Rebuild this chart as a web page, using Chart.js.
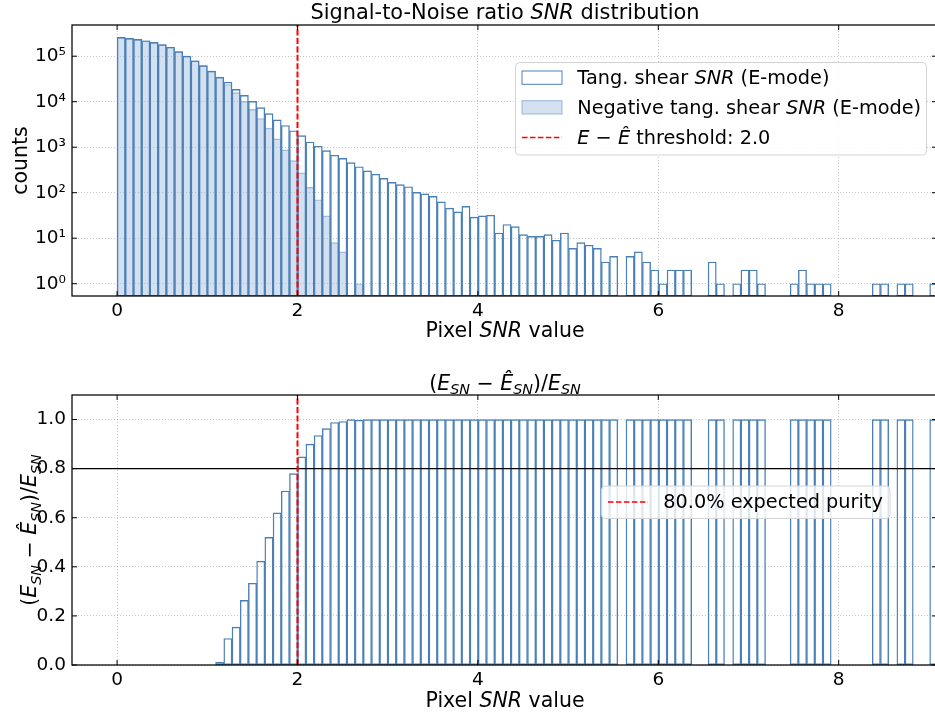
<!DOCTYPE html>
<html>
<head>
<meta charset="utf-8">
<script src="https://cdn.jsdelivr.net/npm/chart.js@4"></script>
<style>
  html, body { margin: 0; padding: 0; background: #fff; overflow: hidden; }
  #wrap { position: relative; width: 935px; height: 717px; overflow: hidden; }
  canvas { position: absolute; left: 0; top: 0; }
</style>
</head>
<body>
<div id="wrap">
  <canvas id="snrHist" width="940" height="717"></canvas>
  <canvas id="purityHist" width="940" height="717"></canvas>
</div>
<script>
// histogram bins: 100 bins of equal width starting at 0
const BIN_W = 0.091;

// tangential shear SNR counts (E-mode), one per bin
const counts = [
  260000, 247000, 235000, 219000, 202000, 179000, 157000, 126000, 100000, 79000,
  62000, 47000, 34700, 26800, 18700, 13800, 10200, 7400, 5450, 4000,
  3000, 2300, 1790, 1300, 1050, 840, 665, 570, 457, 372,
  303, 254, 207, 169, 150, 135, 102, 94, 83, 63,
  46, 38, 50, 29, 31, 32, 13, 20, 18, 12,
  11, 11, 12, 9, 13, 6, 8, 7, 6, 3,
  4, 0, 4, 5, 3, 2, 1, 2, 2, 2,
  0, 0, 3, 1, 0, 1, 2, 2, 1, 0,
  0, 0, 1, 2, 1, 1, 1, 0, 0, 0,
  0, 0, 1, 1, 0, 1, 1, 0, 0, 1
];

// negative tangential shear SNR counts (E-mode)
const negCounts = [
  260000, 247000, 235000, 219000, 202000, 179000, 157000, 126000, 100000, 79000,
  62000, 47000, 34300, 23900, 15800, 10200, 6800, 4270, 2620, 1520,
  873, 506, 272, 131, 70, 31, 8, 5, 0, 1,
  0, 0, 0, 0, 0, 0, 0, 0, 0, 0,
  0, 0, 0, 0, 0, 0, 0, 0, 0, 0,
  0, 0, 0, 0, 0, 0, 0, 0, 0, 0,
  0, 0, 0, 0, 0, 0, 0, 0, 0, 0,
  0, 0, 0, 0, 0, 0, 0, 0, 0, 0,
  0, 0, 0, 0, 0, 0, 0, 0, 0, 0,
  0, 0, 0, 0, 0, 0, 0, 0, 0, 0
];

// (E_SN - Ê_SN) / E_SN per bin, null = no bar
const purity = [
  null, null, null, null, null, null, null, null, null, null,
  null, null, 0.012, 0.108, 0.154, 0.263, 0.333, 0.423, 0.52, 0.62,
  0.709, 0.78, 0.848, 0.90, 0.935, 0.963, 0.988, 0.992, 1.0, 0.997,
  1, 1, 1, 1, 1, 1, 1, 1, 1, 1,
  1, 1, 1, 1, 1, 1, 1, 1, 1, 1,
  1, 1, 1, 1, 1, 1, 1, 1, 1, 1,
  1, null, 1, 1, 1, 1, 1, 1, 1, 1,
  null, null, 1, 1, null, 1, 1, 1, 1, null,
  null, null, 1, 1, 1, 1, 1, null, null, null,
  null, null, 1, 1, null, 1, 1, null, null, 1
];

const xTicks = [0, 2, 4, 6, 8];
const countTicks = [1, 10, 100, 1000, 10000, 100000];
const purityTicks = [0, 0.2, 0.4, 0.6, 0.8, 1.0];
const snrThreshold = 2.0;
const purityLevel = 0.8;

const X_MIN = -0.5, X_MAX = 9.09;
const Y_MIN = 0.537, Y_MAX = 4.85e5;

const FONT = 'DejaVu Sans';
const FS = 18.5;      // ticks
const FS_LEG = 19.3;  // legends
const FS_LAB = 20.5;  // axis labels
const FS_TTL = 20.9;  // titles
const EDGE = '#4a80b6';
const NEG_FILL = 'rgba(160,187,219,0.45)';
const NEG_EDGE = 'rgba(120,160,205,0.7)';
const RED_DASH = [6, 2.4];

Chart.defaults.font.family = FONT;
Chart.defaults.font.size = FS;
Chart.defaults.color = '#000';
Chart.defaults.animation = false;

const sup = { '0': '⁰', '1': '¹', '2': '²', '3': '³', '4': '⁴', '5': '⁵' };

function binPoints(arr) {
  return arr.map((v, i) => ({ x: (i + 0.5) * BIN_W, y: v > 0 ? v : null }));
}

// draws text made of [text, italic, subscript] parts; centred unless opt.left
function richText(ctx, parts, x, y, size, opt) {
  opt = opt || {};
  const fontOf = p => (p[1] ? 'italic ' : '') + (p[2] ? size * 0.7 : size) + 'px "' + FONT + '"';
  let w = 0;
  parts.forEach(p => { ctx.font = fontOf(p); w += ctx.measureText(p[0]).width; });
  ctx.save();
  ctx.translate(x, y);
  if (opt.rot) ctx.rotate(-Math.PI / 2);
  ctx.fillStyle = '#000';
  ctx.textBaseline = 'alphabetic';
  ctx.textAlign = 'left';
  let cx = opt.left ? 0 : -w / 2;
  parts.forEach(p => {
    ctx.font = fontOf(p);
    ctx.fillText(p[0], cx, p[2] ? size * 0.22 : 0);
    cx += ctx.measureText(p[0]).width;
  });
  ctx.restore();
}

function legendBox(ctx, x, y, w, h) {
  ctx.save();
  ctx.beginPath();
  ctx.roundRect(x, y, w, h, 4);
  ctx.fillStyle = 'rgba(255,255,255,0.8)';
  ctx.fill();
  ctx.strokeStyle = '#d4d4d4';
  ctx.lineWidth = 1;
  ctx.stroke();
  ctx.restore();
}

function dashedSample(ctx, x0, x1, y) {
  ctx.save();
  ctx.strokeStyle = 'red';
  ctx.lineWidth = 1.5;
  ctx.setLineDash([5.55, 2.4]);
  ctx.beginPath();
  ctx.moveTo(x0, y); ctx.lineTo(x1, y);
  ctx.stroke();
  ctx.restore();
}

// spines on all four sides and inward ticks
const frame = {
  id: 'frame',
  afterDatasetsDraw(chart, args, opts) {
    const { ctx, chartArea: a, scales } = chart;
    ctx.save();
    ctx.strokeStyle = '#000';
    ctx.lineWidth = 1;
    ctx.beginPath();
    xTicks.forEach(v => {
      const px = scales.x.getPixelForValue(v);
      ctx.moveTo(px, a.bottom); ctx.lineTo(px, a.bottom - 5);
      ctx.moveTo(px, a.top); ctx.lineTo(px, a.top + 5);
    });
    opts.yTicks.forEach(v => {
      const py = scales.y.getPixelForValue(v);
      ctx.moveTo(a.left, py); ctx.lineTo(a.left + 5, py);
      ctx.moveTo(a.right, py); ctx.lineTo(a.right - 5, py);
    });
    ctx.stroke();
    ctx.lineWidth = 1.25;
    ctx.strokeRect(a.left, a.top, a.right - a.left, a.bottom - a.top);
    ctx.restore();
  }
};

const topText = {
  id: 'topText',
  afterDraw(chart) {
    const ctx = chart.ctx;
    richText(ctx, [['Signal-to-Noise ratio ', 0], ['SNR', 1], [' distribution', 0]], 505, 18.5, FS_TTL);
    richText(ctx, [['Pixel ', 0], ['SNR', 1], [' value', 0]], 505, 337, FS_LAB);
    richText(ctx, [['counts', 0]], 27, 160.5, FS_LAB, { rot: true });
    legendBox(ctx, 515.5, 62.5, 411, 92.5);
    ctx.save();
    ctx.fillStyle = '#fff';
    ctx.strokeStyle = EDGE;
    ctx.lineWidth = 1;
    ctx.fillRect(522, 71, 40, 13.3);
    ctx.strokeRect(522, 71, 40, 13.3);
    ctx.fillStyle = NEG_FILL;
    ctx.strokeStyle = NEG_EDGE;
    ctx.fillRect(522, 100.7, 40, 13.3);
    ctx.strokeRect(522, 100.7, 40, 13.3);
    ctx.restore();
    dashedSample(ctx, 522, 562, 137.5);
    const lx = 577.3;
    richText(ctx, [['Tang. shear ', 0], ['SNR', 1], [' (E-mode)', 0]], lx, 84.3, FS_LEG, { left: true });
    richText(ctx, [['Negative tang. shear ', 0], ['SNR', 1], [' (E-mode)', 0]], lx, 114, FS_LEG, { left: true });
    richText(ctx, [['E', 1], [' − ', 0], ['Ê', 1], [' threshold: 2.0', 0]], lx, 144, FS_LEG, { left: true });
  }
};

const botText = {
  id: 'botText',
  afterDraw(chart) {
    const ctx = chart.ctx;
    const ratio = [['(', 0], ['E', 1], ['SN', 1, 1], [' − ', 0], ['Ê', 1], ['SN', 1, 1], [')/', 0], ['E', 1], ['SN', 1, 1]];
    richText(ctx, ratio, 505, 389.5, FS_LAB);
    richText(ctx, [['Pixel ', 0], ['SNR', 1], [' value', 0]], 505, 707, FS_LAB);
    richText(ctx, ratio, 36, 530, FS_LAB, { rot: true });
    legendBox(ctx, 601.5, 486, 288.5, 32.5);
    dashedSample(ctx, 608, 648, 502);
    richText(ctx, [['80.0% expected purity', 0]], 663.3, 508.3, FS_LEG, { left: true });
  }
};

function xAxis() {
  return {
    type: 'linear', min: X_MIN, max: X_MAX, offset: false,
    afterBuildTicks: s => { s.ticks = xTicks.map(v => ({ value: v })); },
    afterFit: s => { s.height = 30; },
    ticks: { padding: 4, font: { size: FS }, callback: v => String(v) },
    grid: { offset: false, color: 'rgba(0,0,0,0.28)', lineWidth: 0.8, drawTicks: false },
    border: { display: false, dash: [1, 2] }
  };
}

const barBase = {
  type: 'bar',
  barPercentage: 1,
  categoryPercentage: 1,
  grouped: false,
  borderSkipped: false,
  borderWidth: 0.75
};

new Chart(document.getElementById('snrHist'), {
  type: 'bar',
  data: {
    datasets: [
      Object.assign({}, barBase, {
        label: 'Negative tang. shear SNR (E-mode)',
        data: binPoints(negCounts), base: Y_MIN,
        backgroundColor: NEG_FILL, borderColor: NEG_EDGE, order: 2
      }),
      Object.assign({}, barBase, {
        label: 'Tang. shear SNR (E-mode)',
        data: binPoints(counts), base: Y_MIN,
        backgroundColor: 'rgba(0,0,0,0)', borderColor: EDGE, order: 1
      }),
      {
        type: 'line', label: 'threshold',
        data: [{ x: snrThreshold, y: Y_MIN }, { x: snrThreshold, y: Y_MAX }],
        borderColor: 'red', borderWidth: 2, borderDash: RED_DASH,
        pointRadius: 0, order: 0
      }
    ]
  },
  options: {
    responsive: false,
    layout: { padding: { left: 0, right: 3, top: 25, bottom: 717 - 296 - 30 } },
    plugins: { legend: { display: false }, tooltip: { enabled: false }, frame: { yTicks: countTicks } },
    scales: {
      x: xAxis(),
      y: {
        type: 'logarithmic', min: Y_MIN, max: Y_MAX,
        afterBuildTicks: s => { s.ticks = countTicks.map(v => ({ value: v })); },
        afterFit: s => { s.width = 72; },
        ticks: { padding: 6, callback: v => '10' + sup[String(Math.round(Math.log10(v)))] },
        grid: { color: 'rgba(0,0,0,0.28)', lineWidth: 0.8, drawTicks: false },
        border: { display: false, dash: [1, 2] }
      }
    }
  },
  plugins: [frame, topText]
});

new Chart(document.getElementById('purityHist'), {
  type: 'bar',
  data: {
    datasets: [
      Object.assign({}, barBase, {
        label: 'purity',
        data: binPoints(purity), base: 0,
        backgroundColor: 'rgba(0,0,0,0)', borderColor: EDGE, order: 2
      }),
      {
        type: 'line', label: 'expected purity',
        data: [{ x: X_MIN, y: purityLevel }, { x: X_MAX, y: purityLevel }],
        borderColor: '#000', borderWidth: 1.4, pointRadius: 0, order: 1
      },
      {
        type: 'line', label: '80.0% expected purity',
        data: [{ x: snrThreshold, y: 0 }, { x: snrThreshold, y: 1.1 }],
        borderColor: 'red', borderWidth: 2, borderDash: RED_DASH,
        pointRadius: 0, order: 0
      }
    ]
  },
  options: {
    responsive: false,
    layout: { padding: { left: 0, right: 3, top: 395, bottom: 717 - 665 - 30 } },
    plugins: { legend: { display: false }, tooltip: { enabled: false }, frame: { yTicks: purityTicks } },
    scales: {
      x: xAxis(),
      y: {
        type: 'linear', min: 0, max: 1.1,
        afterBuildTicks: s => { s.ticks = purityTicks.map(v => ({ value: v })); },
        afterFit: s => { s.width = 72; },
        ticks: { padding: 6, callback: v => v.toFixed(1) },
        grid: { color: 'rgba(0,0,0,0.28)', lineWidth: 0.8, drawTicks: false },
        border: { display: false, dash: [1, 2] }
      }
    }
  },
  plugins: [frame, botText]
});
</script>
</body>
</html>
